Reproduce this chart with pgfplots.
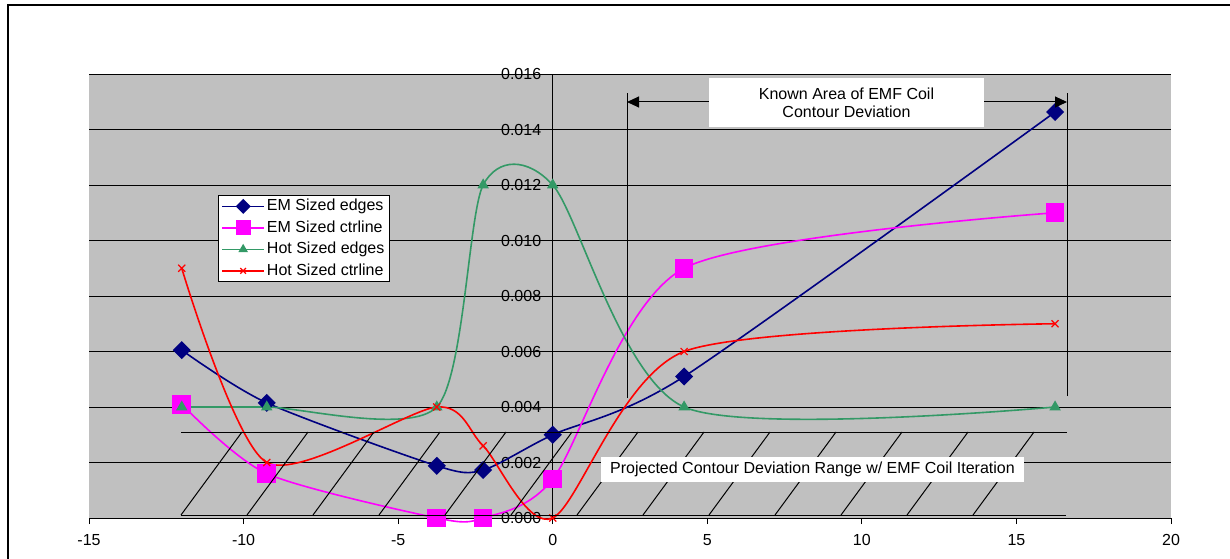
\documentclass[border=0pt]{standalone}
\usepackage{pgfplots}
\pgfplotsset{compat=1.18}
\usepackage{fontspec}
\setmainfont{Liberation Sans}
\usetikzlibrary{arrows.meta}
\definecolor{plotgray}{RGB}{192,192,192}
\definecolor{emnavy}{RGB}{0,0,128}
\definecolor{emmag}{RGB}{255,0,255}
\definecolor{hotgreen}{RGB}{51,153,102}
\definecolor{hotred}{RGB}{255,0,0}
\begin{document}
\fontsize{16}{18}\selectfont
\begin{tikzpicture}
\useasboundingbox (0pt,0pt) rectangle (1230pt,558pt);
\fill[white] (0pt,0pt) rectangle (1230pt,558pt);
\draw[line width=2pt] (8pt,-10pt) rectangle (1245pt,553pt);
\fill[plotgray] (89pt,40pt) rectangle (1171pt,484pt);
\begin{axis}[
  at={(89pt,40pt)}, anchor=south west,
  width=1082pt, height=444pt, scale only axis,
  xmin=-15, xmax=20, ymin=0, ymax=0.016,
  axis x line=bottom, axis y line=middle,
  axis line style={black, line width=0.8pt, -},
  xtick={-15,-10,-5,0,5,10,15,20},
  ytick={0,0.002,0.004,0.006,0.008,0.010,0.012,0.014,0.016},
  scaled y ticks=false,
  yticklabel style={/pgf/number format/.cd, fixed, fixed zerofill, precision=3},
  xticklabel style={yshift=-5pt},
  /pgf/number format/assume math mode=true,
  tick label style={font=\fontsize{16}{18}\selectfont},
  tick align=outside, major tick length=6pt,
  tick style={black, line width=0.8pt},
  ymajorgrids, major grid style={black, line width=0.8pt},
  hide obscured x ticks=false, hide obscured y ticks=false,
  clip=false,
  every axis plot/.append style={line width=1.6pt, smooth, tension=0.45},
  legend style={at={(0.1192,0.7275)}, anchor=north west,
    font=\fontsize{16}{18}\selectfont, draw=black, line width=0.8pt, fill=white,
    inner xsep=3pt, inner ysep=2pt, row sep=3.5pt},
  legend cell align=left,
  legend image code/.code={\draw[mark repeat=2,mark phase=2,#1,every mark/.append style={scale=0.8}] plot coordinates {(0pt,0pt) (21pt,0pt) (42pt,0pt)};},
]
\addplot[color=emnavy, mark=square*, mark size=5.6pt, mark options={rotate=45}] coordinates {
(-12,0.00605) (-9.25,0.00415) (-3.75,0.00188) (-2.25,0.00173) (0,0.00300) (4.25,0.00510) (16.25,0.01463)};
\addlegendentry{EM Sized edges}
\addplot[color=emmag, mark=square*, mark size=8.5pt] coordinates {
(-12,0.0041) (-9.25,0.0016) (-3.75,0) (-2.25,0) (0,0.0014) (4.25,0.009) (16.25,0.011)};
\addlegendentry{EM Sized ctrline}
\addplot[color=hotgreen, mark=triangle*, mark size=5pt] coordinates {
(-12,0.004) (-9.25,0.004) (-3.75,0.004) (-2.25,0.012) (0,0.012) (4.25,0.004) (16.25,0.004)};
\addlegendentry{Hot Sized edges}
\addplot[color=hotred, mark=x, mark size=5pt, mark options={line width=1.2pt}] coordinates {
(-12,0.009) (-9.25,0.002) (-3.75,0.004) (-2.25,0.0026) (0,0) (4.25,0.006) (16.25,0.007)};
\addlegendentry{Hot Sized ctrline}
\end{axis}
% annotations
\draw[line width=1pt] (627pt,160pt) -- (627pt,465pt);
\draw[line width=1pt] (1067pt,162pt) -- (1067pt,465pt);
\draw[line width=1pt, {Triangle[length=12pt,width=11pt]}-{Triangle[length=12pt,width=11pt]}] (627pt,456pt) -- (1067pt,456pt);
\node[fill=white, minimum width=275pt, minimum height=49pt, inner sep=0pt, align=center, font=\fontsize{16}{18}\selectfont] at (846.5pt,455.5pt) {Known Area of EMF Coil\\Contour Deviation};
\draw[line width=1pt] (181pt,126pt) -- (1067pt,126pt);
\draw[line width=1pt] (181pt,43pt) -- (1066pt,43pt);
\foreach \i in {0,...,12} \draw[line width=1pt] ({181pt+66pt*\i},43pt) -- ({242pt+66pt*\i},126pt);
\node[fill=white, minimum width=423pt, minimum height=25pt, inner sep=0pt, font=\fontsize{16}{18}\selectfont] at (812.5pt,88.5pt) {Projected Contour Deviation Range w/ EMF Coil Iteration};
\end{tikzpicture}
\end{document}
